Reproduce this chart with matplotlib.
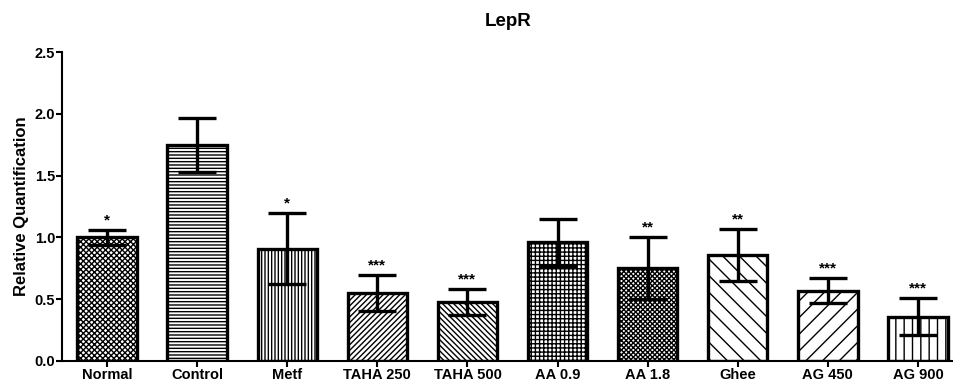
import numpy as np
import matplotlib.pyplot as plt

plt.rcParams['font.family'] = ['Liberation Sans', 'DejaVu Sans']
plt.rcParams['font.weight'] = 'bold'
plt.rcParams['hatch.linewidth'] = 1.0

# data
groups = ['Normal', 'Control', 'Metf', 'TAHA 250', 'TAHA 500',
          'AA 0.9', 'AA 1.8', 'Ghee', 'AG 450', 'AG 900']
means = [1.00, 1.75, 0.91, 0.55, 0.48, 0.96, 0.75, 0.86, 0.57, 0.36]
errs = [0.06, 0.22, 0.29, 0.145, 0.105, 0.19, 0.25, 0.21, 0.10, 0.15]
stars = ['*', '', '*', '***', '***', '', '**', '**', '***', '***']
hatches = ['xxxxxx', '-----', '|||||', '//////', '\\\\\\\\\\\\',
           '++++', 'xxxxxxx', '\\\\', '//', '||']

fig = plt.figure(figsize=(9.54, 3.87), dpi=100)
ax = fig.add_axes([62/954, 26/387, 892/954, 309/387])

x = np.arange(len(groups))
ax.bar(x, means, width=0.66, color='white', edgecolor='black',
       linewidth=2.4, hatch=hatches, zorder=2)
ax.errorbar(x, means, yerr=errs, fmt='none', ecolor='black',
            elinewidth=2.4, capsize=14, capthick=2.4, zorder=3)

for xi, m, e, s in zip(x, means, errs, stars):
    if s:
        ax.text(xi, m + e + 0.02, s, ha='center', va='bottom',
                fontsize=11, fontweight='bold')

ax.set_xlim(-0.5, 9.4)
ax.set_ylim(0, 2.5)
ax.set_yticks([0.0, 0.5, 1.0, 1.5, 2.0, 2.5])
ax.set_yticklabels(['0.0', '0.5', '1.0', '1.5', '2.0', '2.5'])
ax.set_xticks(x)
ax.set_xticklabels(groups)
ax.tick_params(axis='both', labelsize=10.5, width=1.5, length=4, pad=1)
for lab in ax.get_xticklabels() + ax.get_yticklabels():
    lab.set_fontweight('bold')

ax.spines['top'].set_visible(False)
ax.spines['right'].set_visible(False)
ax.spines['left'].set_linewidth(1.5)
ax.spines['bottom'].set_linewidth(1.5)

ax.set_ylabel('Relative Quantification', fontsize=12, fontweight='bold',
              labelpad=4)
fig.text(0.5 + 31/954, 1 - 22/387, 'LepR', ha='center', va='center',
         fontsize=13.5, fontweight='bold')

fig.savefig('out.png', dpi=100)
